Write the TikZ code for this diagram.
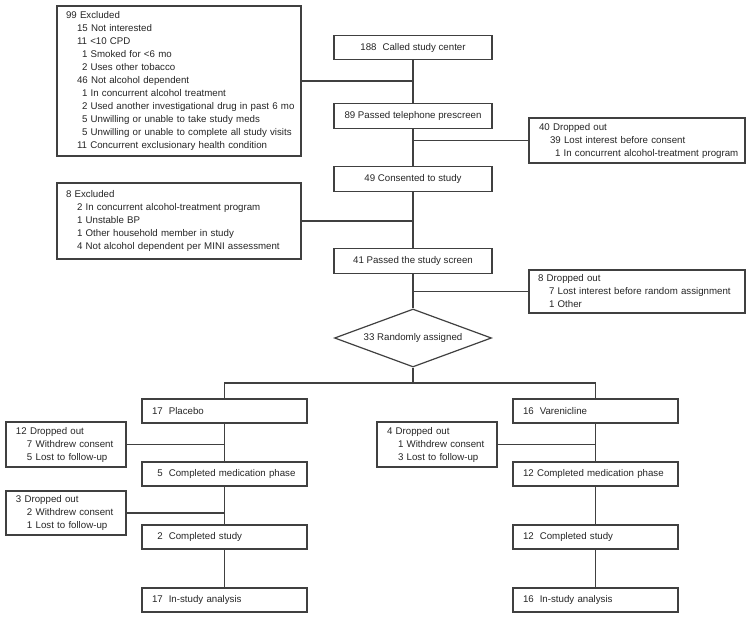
\documentclass[tikz,border=0pt]{standalone}
\usepackage{fontspec}
\setmainfont{Liberation Sans}
\usetikzlibrary{shapes.geometric}
\newcommand\indA{\hspace*{11pt}}
\newcommand\indB{\hspace*{16pt}}
\newcommand\gap{\hspace{6pt}}
\newcommand\lne[1]{\mbox{#1}}
\begin{document}
\begin{tikzpicture}[x=1pt,y=-1pt,
  every node/.style={font=\fontsize{9.7}{13}\selectfont, text=black!85},
  box/.style={draw=black!75, line width=1.2pt, rectangle, inner sep=0pt, fill=white},
  mainbox/.style={box, minimum width=158pt, minimum height=24.5pt, align=center},
  armbox/.style={box, minimum width=165pt, minimum height=24pt, text width=145pt, align=left},
  sidebox/.style={box, align=left},
  link/.style={draw=black!75, line width=1.2pt}]
\useasboundingbox (0,0) rectangle (750,617);

% main column
\node[mainbox] (called) at (413,47.5) {188\gap Called study center};
\node[mainbox] (phone) at (413,116) {89 Passed telephone prescreen};
\node[mainbox] (consent) at (413,179) {49 Consented to study};
\node[mainbox] (screen) at (413,261) {41 Passed the study screen};
\node[draw=black!75, line width=1.2pt, diamond, aspect=2.7, inner sep=0pt,
      minimum width=157pt, minimum height=58pt, fill=white,
      label={[font=\fontsize{9.7}{13}\selectfont, text=black!85]center:33 Randomly assigned}] (rand) at (413,338) {};

% side boxes
\node[sidebox, minimum width=244pt, minimum height=150pt, text width=226pt] (excl1) at (179,81) {\lne{99 Excluded}\\
\lne{\indA 15 Not interested}\\
\lne{\indA 11 <10 CPD}\\
\lne{\indB 1 Smoked for <6 mo}\\
\lne{\indB 2 Uses other tobacco}\\
\lne{\indA 46 Not alcohol dependent}\\
\lne{\indB 1 In concurrent alcohol treatment}\\
\lne{\indB 2 Used another investigational drug in past 6 mo}\\
\lne{\indB 5 Unwilling or unable to take study meds}\\
\lne{\indB 5 Unwilling or unable to complete all study visits}\\
\lne{\indA 11 Concurrent exclusionary health condition}};

\node[sidebox, minimum width=216pt, minimum height=45pt, text width=196pt] (drop1) at (637,140.5) {\lne{40 Dropped out}\\
\lne{\indA 39 Lost interest before consent}\\
\lne{\indB 1 In concurrent alcohol-treatment program}};

\node[sidebox, minimum width=244pt, minimum height=76pt, text width=226pt] (excl2) at (179,221) {\lne{8 Excluded}\\
\lne{\indA 2 In concurrent alcohol-treatment program}\\
\lne{\indA 1 Unstable BP}\\
\lne{\indA 1 Other household member in study}\\
\lne{\indA 4 Not alcohol dependent per MINI assessment}};

\node[sidebox, minimum width=216pt, minimum height=43pt, text width=198pt] (drop2) at (637,291.5) {\lne{8 Dropped out}\\
\lne{\indA 7 Lost interest before random assignment}\\
\lne{\indA 1 Other}};

% branch
\coordinate (br) at (413,383);

% placebo arm
\node[armbox] (placebo) at (224.5,411) {\lne{17\gap Placebo}};
\node[armbox] (pmed) at (224.5,474) {\lne{\phantom{1}5\gap Completed medication phase}};
\node[armbox] (pstudy) at (224.5,537) {\lne{\phantom{1}2\gap Completed study}};
\node[armbox] (panal) at (224.5,600) {\lne{17\gap In-study analysis}};
\node[sidebox, minimum width=120pt, minimum height=45pt, text width=100pt] (drop3) at (66,444.5) {\lne{12 Dropped out}\\
\lne{\indA 7 Withdrew consent}\\
\lne{\indA 5 Lost to follow-up}};
\node[sidebox, minimum width=120pt, minimum height=44pt, text width=100pt] (drop4) at (66,513) {\lne{3 Dropped out}\\
\lne{\indA 2 Withdrew consent}\\
\lne{\indA 1 Lost to follow-up}};

% varenicline arm
\node[armbox] (var) at (595.5,411) {\lne{16\gap Varenicline}};
\node[armbox] (vmed) at (595.5,474) {\lne{12 Completed medication phase}};
\node[armbox] (vstudy) at (595.5,537) {\lne{12\gap Completed study}};
\node[armbox] (vanal) at (595.5,600) {\lne{16\gap In-study analysis}};
\node[sidebox, minimum width=120pt, minimum height=45pt, text width=100pt] (drop5) at (437,444.5) {\lne{4 Dropped out}\\
\lne{\indA 1 Withdrew consent}\\
\lne{\indA 3 Lost to follow-up}};

% connectors
\path[link] (called.south) -- (phone.north);
\path[link] (excl1.east) -- (excl1.east -| called.south);
\path[link] (phone.south) -- (consent.north);
\path[link] (drop1.west) -- (drop1.west -| phone.south);
\path[link] (consent.south) -- (screen.north);
\path[link] (excl2.east) -- (excl2.east -| consent.south);
\path[link] (screen.south) -- (rand.north);
\path[link] (drop2.west) -- (drop2.west -| screen.south);
\path[link] (rand.south) -- (br);
\path[link] (placebo.north) |- (br) -| (var.north);
\path[link] (placebo.south) -- (pmed.north);
\path[link] (drop3.east) -- (drop3.east -| placebo.south);
\path[link] (pmed.south) -- (pstudy.north);
\path[link] (drop4.east) -- (drop4.east -| pmed.south);
\path[link] (pstudy.south) -- (panal.north);
\path[link] (var.south) -- (vmed.north);
\path[link] (drop5.east) -- (drop5.east -| var.south);
\path[link] (vmed.south) -- (vstudy.north);
\path[link] (vstudy.south) -- (vanal.north);
\end{tikzpicture}
\end{document}
